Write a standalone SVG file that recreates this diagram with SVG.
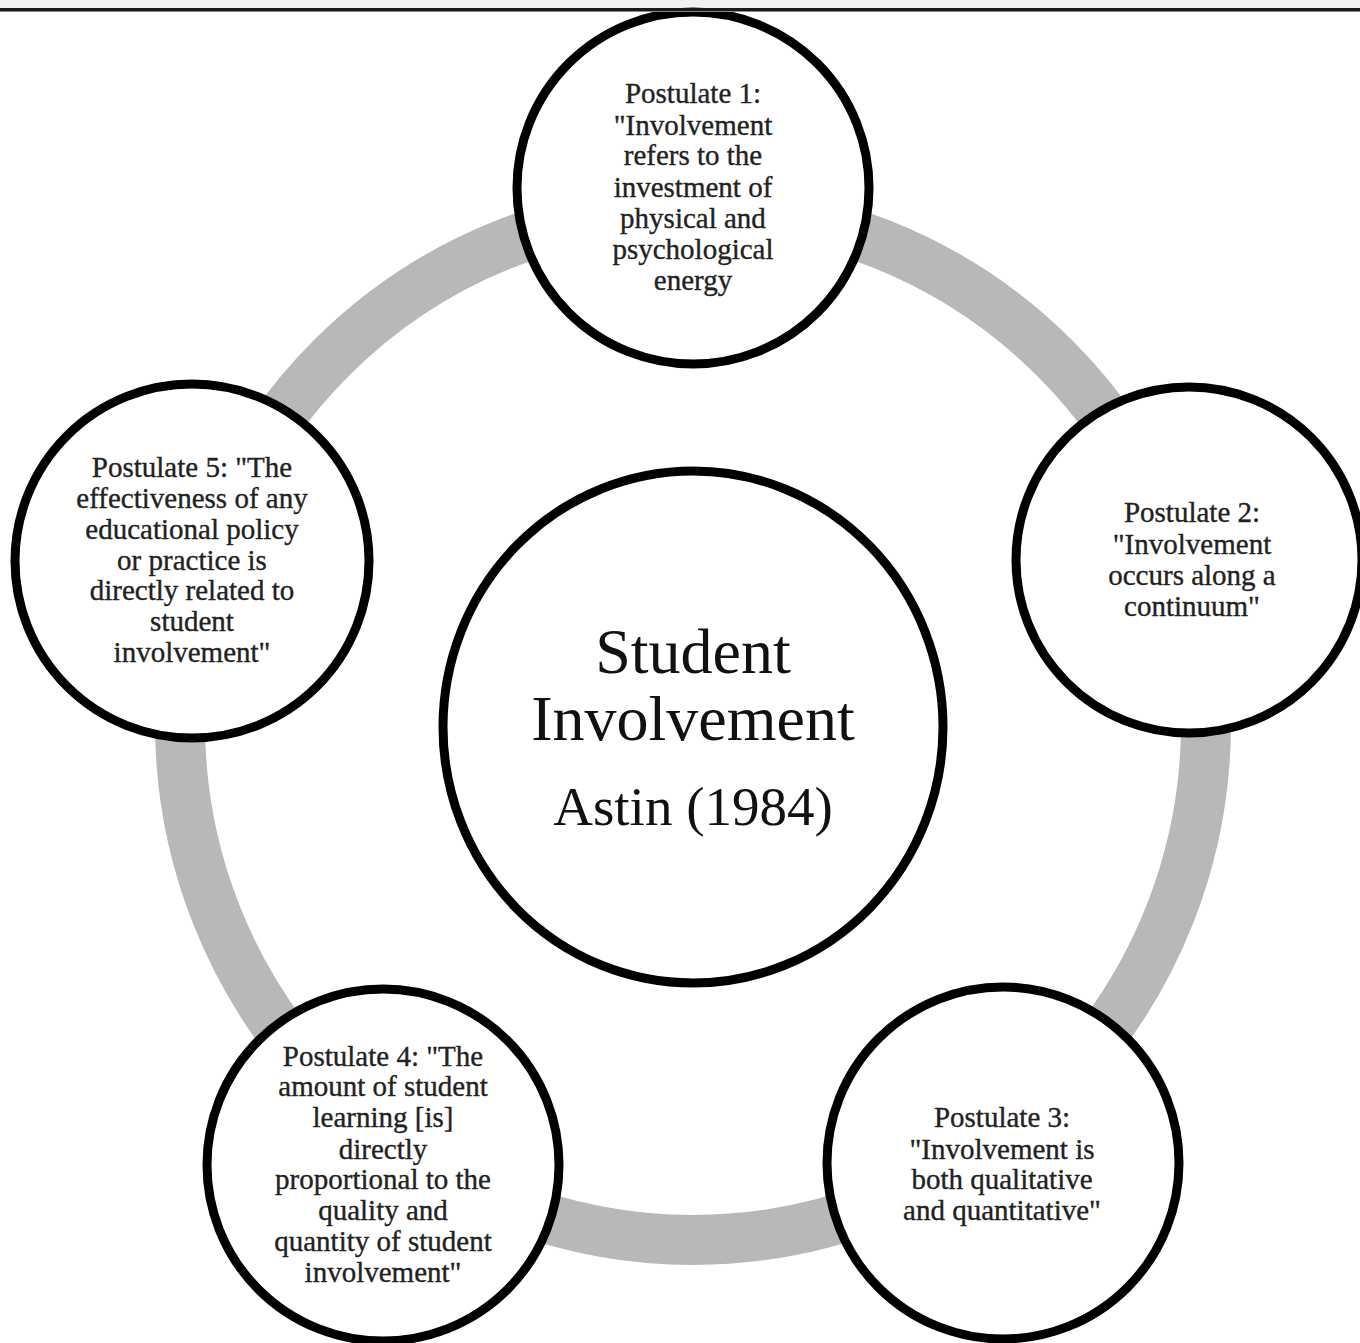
<svg xmlns="http://www.w3.org/2000/svg" width="1360" height="1343" viewBox="0 0 1360 1343">
<style>
.node{fill:#ffffff;stroke:#000000;stroke-width:9}
.t{font-family:"Liberation Serif","Times New Roman",serif;font-size:29px;fill:#222222;stroke:#222222;stroke-width:0.35;text-anchor:middle}
.big{font-family:"Liberation Serif","Times New Roman",serif;fill:#111111;text-anchor:middle}
</style>
<rect x="0" y="0" width="1360" height="1343" fill="#ffffff"/>
<rect x="0" y="0" width="1360" height="8" fill="#f2f2f2"/>
<g id="connectors">
<ellipse cx="693" cy="724" rx="513" ry="516" fill="none" stroke="#b8b8b8" stroke-width="50"/>
</g>
<g id="center">
<ellipse class="node" cx="693" cy="727" rx="250" ry="256"/>
<text class="big" x="693" y="673" font-size="64">Student</text>
<text class="big" x="693" y="740" font-size="64">Involvement</text>
<text class="big" x="693" y="825" font-size="55">Astin (1984)</text>
</g>
<g id="postulate1">
<circle class="node" cx="693" cy="188" r="176"/>
<text class="t" x="693" y="103">Postulate 1:</text>
<text class="t" x="693" y="135">"Involvement</text>
<text class="t" x="693" y="165">refers to the</text>
<text class="t" x="693" y="197">investment of</text>
<text class="t" x="693" y="228">physical and</text>
<text class="t" x="693" y="259">psychological</text>
<text class="t" x="693" y="290">energy</text>
</g>
<g id="postulate2">
<circle class="node" cx="1189" cy="560" r="173"/>
<text class="t" x="1192" y="522">Postulate 2:</text>
<text class="t" x="1192" y="554">"Involvement</text>
<text class="t" x="1192" y="585">occurs along a</text>
<text class="t" x="1192" y="616">continuum"</text>
</g>
<g id="postulate3">
<circle class="node" cx="1003" cy="1163" r="176"/>
<text class="t" x="1002" y="1127">Postulate 3:</text>
<text class="t" x="1002" y="1159">"Involvement is</text>
<text class="t" x="1002" y="1189">both qualitative</text>
<text class="t" x="1002" y="1220">and quantitative"</text>
</g>
<g id="postulate4">
<circle class="node" cx="383" cy="1165" r="176"/>
<text class="t" x="383" y="1066">Postulate 4: "The</text>
<text class="t" x="383" y="1096">amount of student</text>
<text class="t" x="383" y="1127">learning [is]</text>
<text class="t" x="383" y="1159">directly</text>
<text class="t" x="383" y="1189">proportional to the</text>
<text class="t" x="383" y="1220">quality and</text>
<text class="t" x="383" y="1251">quantity of student</text>
<text class="t" x="383" y="1282">involvement"</text>
</g>
<g id="postulate5">
<circle class="node" cx="192" cy="561" r="177"/>
<text class="t" x="192" y="477">Postulate 5: "The</text>
<text class="t" x="192" y="508">effectiveness of any</text>
<text class="t" x="192" y="539">educational policy</text>
<text class="t" x="192" y="570">or practice is</text>
<text class="t" x="192" y="600">directly related to</text>
<text class="t" x="192" y="631">student</text>
<text class="t" x="192" y="662">involvement"</text>
</g>
<rect x="0" y="8" width="1360" height="3" fill="#1a1a1a"/>
<rect x="0" y="11" width="1360" height="1" fill="#8a8a8a"/>
</svg>
